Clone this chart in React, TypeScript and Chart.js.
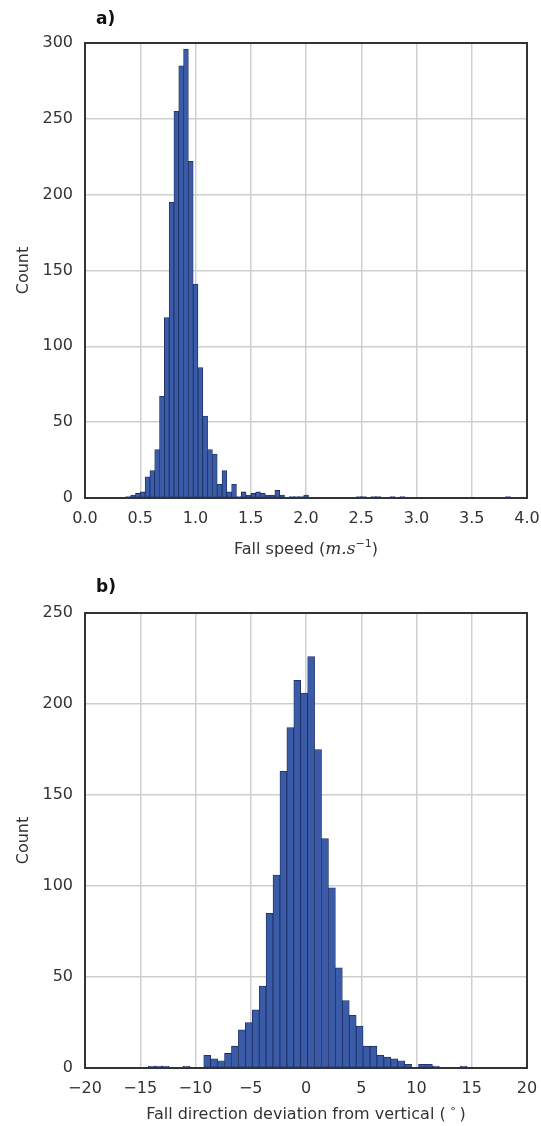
import React, { useEffect, useRef } from "react";
import { Chart, registerables } from "chart.js";
Chart.register(...registerables);

// Panel a: fall speed histogram (80 bins)
const speedBinStart = 0.37;
const speedBinWidth = 0.0435;
const speedCounts = [
  1, 2, 3, 4, 14, 18, 32, 67, 119, 195,
  255, 285, 296, 222, 141, 86, 54, 32, 29, 9,
  18, 4, 9, 1, 4, 2, 3, 4, 3, 2,
  2, 5, 2, 0, 1, 1, 1, 2, 0, 0,
  0, 0, 0, 0, 0, 0, 0, 0, 1, 1,
  0, 1, 1, 0, 0, 1, 0, 1, 0, 0,
  0, 0, 0, 0, 0, 0, 0, 0, 0, 0,
  0, 0, 0, 0, 0, 0, 0, 0, 0, 1,
];
const speedXTicks = [0, 0.5, 1, 1.5, 2, 2.5, 3, 3.5, 4];
const speedYTicks = [0, 50, 100, 150, 200, 250, 300];

// Panel b: fall direction deviation histogram (46 bins)
const dirBinStart = -14.27;
const dirBinWidth = 0.627;
const dirCounts = [
  1, 1, 1, 0, 0, 1, 0, 0, 7, 5,
  4, 8, 12, 21, 25, 32, 45, 85, 106, 163,
  187, 213, 206, 226, 175, 126, 99, 55, 37, 29,
  23, 12, 12, 7, 6, 5, 4, 2, 0, 2,
  2, 1, 0, 0, 0, 1,
];
const dirXTicks = [-20, -15, -10, -5, 0, 5, 10, 15, 20];
const dirYTicks = [0, 50, 100, 150, 200, 250];

const FONT = "'DejaVu Sans', sans-serif";
const TEXT = "#333333";

type Seg = { t: string; font: string; dy?: number };

type PanelProps = {
  height: number;
  counts: number[];
  binStart: number;
  binWidth: number;
  xTicks: number[];
  yTicks: number[];
  xFmt: (v: number) => string;
  label: string;
  labelBaseline: number;
  plotTop: number;
  plotBottom: number;
  titleBaseline: number;
  titleSegs: Seg[];
};

function Panel(p: PanelProps) {
  const ref = useRef<HTMLCanvasElement | null>(null);
  useEffect(() => {
    const canvas = ref.current!;
    const data = p.counts.map((c, i) => ({ x: p.binStart + p.binWidth * (i + 0.5), y: c }));
    const xMin = p.xTicks[0];
    const xMax = p.xTicks[p.xTicks.length - 1];
    const yMax = p.yTicks[p.yTicks.length - 1];
    const decor = {
      id: "decor",
      afterDraw(chart: any) {
        const { ctx, chartArea } = chart;
        const { left, right, top, bottom } = chartArea;
        ctx.save();
        ctx.strokeStyle = "#333333";
        ctx.lineWidth = 2;
        ctx.strokeRect(left, top, right - left, bottom - top);
        // panel label
        ctx.fillStyle = "#111111";
        ctx.font = `bold 17px ${FONT}`;
        ctx.textAlign = "left";
        ctx.textBaseline = "alphabetic";
        ctx.fillText(p.label, 96, p.labelBaseline);
        // y title
        ctx.fillStyle = TEXT;
        ctx.font = `16px ${FONT}`;
        ctx.save();
        ctx.translate(24, (top + bottom) / 2);
        ctx.rotate(-Math.PI / 2);
        ctx.textAlign = "center";
        ctx.textBaseline = "middle";
        ctx.fillText("Count", 0, 0);
        ctx.restore();
        // x title with mixed fonts
        ctx.textAlign = "left";
        ctx.textBaseline = "alphabetic";
        let total = 0;
        const widths = p.titleSegs.map((s) => {
          ctx.font = s.font;
          const w = ctx.measureText(s.t).width;
          total += w;
          return w;
        });
        let x = (left + right) / 2 - total / 2;
        p.titleSegs.forEach((s, i) => {
          ctx.font = s.font;
          ctx.fillText(s.t, x, p.titleBaseline + (s.dy || 0));
          x += widths[i];
        });
        ctx.restore();
      },
    };
    const chart = new Chart(canvas, {
      type: "bar",
      data: {
        datasets: [
          {
            data,
            backgroundColor: "#3a5ca8",
            borderColor: "#1c2b5c",
            borderWidth: 0.8,
            borderSkipped: false,
            barPercentage: 1,
            categoryPercentage: 1,
            grouped: false,
          } as any,
        ],
      },
      options: {
        animation: false,
        responsive: false,
        devicePixelRatio: 1,
        layout: { padding: { top: p.plotTop, right: 14, left: 0, bottom: 0 } },
        plugins: { legend: { display: false }, tooltip: { enabled: false }, title: { display: false } },
        scales: {
          x: {
            type: "linear",
            min: xMin,
            max: xMax,
            offset: false,
            afterFit: (s: any) => {
              s.height = p.height - p.plotBottom;
              s.paddingLeft = 0;
              s.paddingRight = 0;
            },
            afterBuildTicks: (s: any) => {
              s.ticks = p.xTicks.map((v) => ({ value: v }));
            },
            grid: { color: "#cfcfcf", lineWidth: 1.5, drawTicks: false, offset: false },
            border: { display: false },
            ticks: {
              autoSkip: false,
              maxRotation: 0,
              padding: 11,
              color: TEXT,
              font: { family: FONT, size: 16 },
              callback: (v: any) => p.xFmt(Number(v)),
            },
          },
          y: {
            min: 0,
            max: yMax,
            afterFit: (s: any) => {
              s.width = 85;
              s.paddingTop = 0;
              s.paddingBottom = 0;
            },
            afterBuildTicks: (s: any) => {
              s.ticks = p.yTicks.map((v) => ({ value: v }));
            },
            grid: { color: "#cfcfcf", lineWidth: 1.5, drawTicks: false },
            border: { display: false },
            ticks: {
              padding: 12,
              color: TEXT,
              font: { family: FONT, size: 16 },
              callback: (v: any) => String(v),
            },
          },
        },
      } as any,
      plugins: [decor],
    });
    return () => chart.destroy();
  }, []);
  return <canvas ref={ref} width={541} height={p.height} style={{ display: "block", width: 541, height: p.height }} />;
}

export default function App() {
  return (
    <div style={{ position: "absolute", left: 0, top: 0, width: 541, height: 1126, background: "#fff" }}>
      <Panel
        height={563}
        counts={speedCounts}
        binStart={speedBinStart}
        binWidth={speedBinWidth}
        xTicks={speedXTicks}
        yTicks={speedYTicks}
        xFmt={(v) => v.toFixed(1)}
        label="a)"
        labelBaseline={24}
        plotTop={43}
        plotBottom={498}
        titleBaseline={554}
        titleSegs={[
          { t: "Fall speed (", font: `16px ${FONT}` },
          { t: "m.s", font: `italic 17px 'DejaVu Serif', serif` },
          { t: "−1", font: `11px ${FONT}`, dy: -7 },
          { t: ")", font: `16px ${FONT}` },
        ]}
      />
      <Panel
        height={563}
        counts={dirCounts}
        binStart={dirBinStart}
        binWidth={dirBinWidth}
        xTicks={dirXTicks}
        yTicks={dirYTicks}
        xFmt={(v) => (v < 0 ? "−" + Math.abs(v) : String(v))}
        label="b)"
        labelBaseline={29}
        plotTop={50}
        plotBottom={505}
        titleBaseline={556}
        titleSegs={[
          { t: "Fall direction deviation from vertical (", font: `16px ${FONT}` },
          { t: " ∘ ", font: `11px ${FONT}`, dy: -7 },
          { t: ")", font: `16px ${FONT}` },
        ]}
      />
    </div>
  );
}
